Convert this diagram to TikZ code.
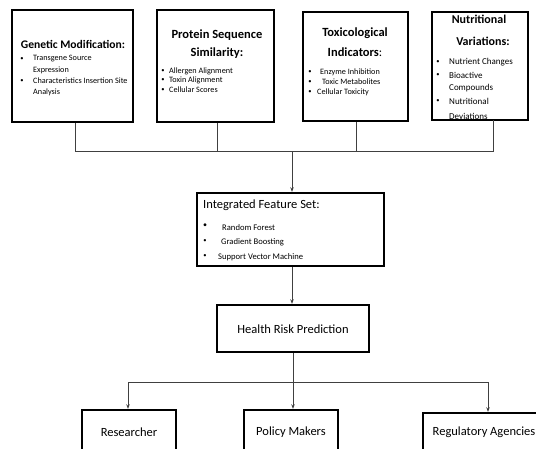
\documentclass[tikz,border=0pt]{standalone}
\usepackage{fontspec}
\setmainfont{Carlito}
\usetikzlibrary{arrows.meta}
\begin{document}
\begin{tikzpicture}[x=1pt,y=-1pt,
  boxstyle/.style={draw=black,line width=2.4pt,fill=white,inner sep=0pt},
  conn/.style={draw=black!75,line width=0.7pt},
  arr/.style={conn,-{Stealth[length=4.5pt,width=3.5pt]}},
  ttl/.style={font=\fontsize{12.5}{14}\selectfont\bfseries,inner sep=0pt},
  itm/.style={font=\fontsize{8.2}{9}\selectfont,anchor=west,inner sep=0pt},
  bul/.style={font=\fontsize{6.5}{8}\selectfont,inner sep=0pt},
  big/.style={font=\fontsize{12.5}{14}\selectfont,inner sep=0pt}]
\clip (0,0) rectangle (536,448);
\fill[white] (0,0) rectangle (536,448);
% top boxes
\node[boxstyle,minimum width=121pt,minimum height=112pt] (g1) at (72.5,66) {};
\node[boxstyle,minimum width=117pt,minimum height=112pt] (g2) at (215.5,66) {};
\node[boxstyle,minimum width=105pt,minimum height=109pt] (g3) at (355.5,66.5) {};
\node[boxstyle,draw=none,outer sep=0pt,minimum width=96pt,minimum height=108pt] (g4) at (480,66) {};
% box 1 text
\node[ttl,font=\fontsize{11.6}{13}\selectfont\bfseries] (t1) at (73,44) {Genetic Modification:};
\node[bul] (b11) at (22,59) {•};
\node[itm] (i11) at (33,59) {Transgene Source};
\node[itm] (i12) at (33,70) {Expression};
\node[bul] (b12) at (22,81) {•};
\node[itm] (i13) at (33,81) {Characteristics Insertion Site};
\node[itm] (i14) at (33,92) {Analysis};
% box 2 text
\node[ttl] (t2a) at (217,35) {Protein Sequence};
\node[ttl] (t2b) at (217,53) {Similarity:};
\node[bul] (b21) at (163,71) {•};
\node[itm] (i21) at (169,71) {Allergen Alignment};
\node[bul] (b22) at (163,80.5) {•};
\node[itm] (i22) at (169,80.5) {Toxin Alignment};
\node[bul] (b23) at (163,90) {•};
\node[itm] (i23) at (169,90) {Cellular Scores};
% box 3 text
\node[ttl] (t3a) at (355,33) {Toxicological};
\node[ttl] (t3b) at (355,52) {Indicators\textmd{:}};
\node[bul] (b31) at (310,72) {•};
\node[itm] (i31) at (320,72) {Enzyme Inhibition};
\node[bul] (b32) at (310,82) {•};
\node[itm] (i32) at (322,82) {Toxic Metabolites};
\node[bul] (b33) at (310,92) {•};
\node[itm] (i33) at (317,92) {Cellular Toxicity};
% box 4 text (clipped at box bottom)
\begin{scope}
\clip (420,0) rectangle (536,119);
\node[ttl,font=\fontsize{12}{14}\selectfont\bfseries] (t4a) at (479,19) {Nutritional};
\node[ttl,font=\fontsize{12}{14}\selectfont\bfseries] (t4b) at (483,41) {Variations:};
\node[bul] (b41) at (438,62) {•};
\node[itm,font=\fontsize{9}{10}\selectfont] (i41) at (449,62) {Nutrient Changes};
\node[bul] (b42) at (438,75) {•};
\node[itm,font=\fontsize{9}{10}\selectfont] (i42) at (449,75) {Bioactive};
\node[itm,font=\fontsize{9}{10}\selectfont] (i43) at (449,88) {Compounds};
\node[bul] (b43) at (438,101) {•};
\node[itm,font=\fontsize{9}{10}\selectfont] (i44) at (449,101) {Nutritional};
\node[itm,font=\fontsize{9}{10}\selectfont] (i45) at (449,116) {Deviations};
\end{scope}
\draw[line width=2.4pt] (g4.north west) rectangle (g4.south east);
% integrated
\node[boxstyle,minimum width=187pt,minimum height=73pt] (fs) at (290.5,229.5) {};
\node[big,anchor=west] (fst) at (203,205) {Integrated Feature Set:};
\node[bul,font=\fontsize{8}{9}\selectfont] (fb1) at (205,226) {•};
\node[itm,font=\fontsize{8.6}{9}\selectfont] (fi1) at (222,228) {Random Forest};
\node[bul] (fb2) at (205,241) {•};
\node[itm,font=\fontsize{8.6}{9}\selectfont] (fi2) at (221,242) {Gradient Boosting};
\node[bul] (fb3) at (205,256) {•};
\node[itm,font=\fontsize{8.6}{9}\selectfont] (fi3) at (218,257) {Support Vector Machine};
% health
\node[boxstyle,minimum width=152pt,minimum height=47pt] (hr) at (293,328.5) {};
\node[big] (hrt) at (293,329) {Health Risk Prediction};
% bottom boxes
\node[boxstyle,minimum width=94pt,minimum height=60pt] (r1) at (129,440) {};
\node[boxstyle,minimum width=94pt,minimum height=60pt] (r2) at (291,440) {};
\node[boxstyle,minimum width=130pt,minimum height=60pt] (r3) at (488,443) {};
\node[big] (r1t) at (129,432) {Researcher};
\node[big] (r2t) at (291,432) {Policy Makers};
\node[big] (r3t) at (484,432) {Regulatory Agencies};
% connectors top
\coordinate (j1) at (75,151);
\coordinate (j2) at (217,151);
\coordinate (j3) at (356,151);
\coordinate (j4) at (493,151);
\coordinate (jm) at (292,151);
\draw[conn] (j1 |- g1.south) -- (j1) -- (j4) -- (j4 |- g4.south);
\draw[conn] (j2 |- g2.south) -- (j2);
\draw[conn] (j3 |- g3.south) -- (j3);
\draw[arr] (jm) -- (jm |- fs.north);
\draw[arr] (jm |- fs.south) -- (jm |- hr.north);
% connectors bottom
\coordinate (k0) at (293,382);
\coordinate (k1) at (128,382);
\coordinate (k3) at (488,382);
\draw[arr] (k0 |- hr.south) -- (k0 |- r2.north);
\draw[conn] (k1) -- (k3);
\draw[arr] (k1) -- (k1 |- r1.north);
\draw[arr] (k3) -- (k3 |- r3.north);
\end{tikzpicture}
\end{document}
